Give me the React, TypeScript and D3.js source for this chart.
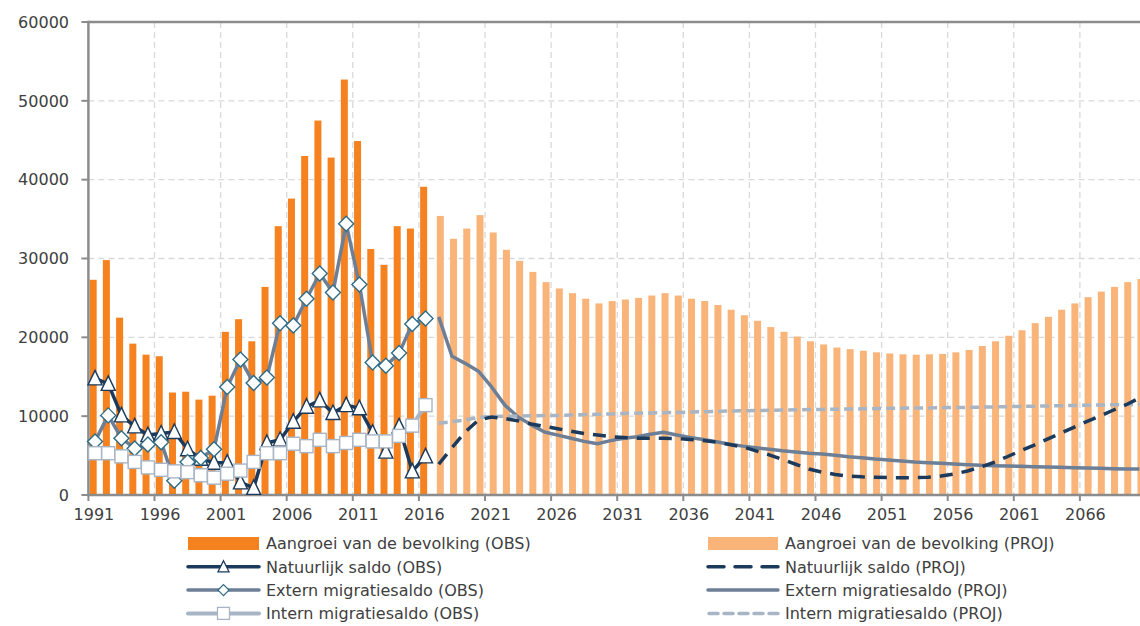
import React from "react";
import * as d3 from "d3";

const obsYears = d3.range(1991, 2017);
const projYears = d3.range(2017, 2071);
const allYears = d3.range(1991, 2071);
const tickYears = d3.range(1991, 2071, 5);
const yTicks = [0, 10000, 20000, 30000, 40000, 50000, 60000];

const growthObs = [27300, 29800, 22500, 19200, 17800, 17600, 13000, 13100, 12100, 12600, 20700, 22300, 19500, 26400, 34100, 37600, 43000, 47500, 42800, 52700, 44900, 31200, 29200, 34100, 33800, 39100];
const naturalObs = [14800, 14100, 10100, 8700, 7600, 7800, 8000, 5800, 4600, 4100, 4100, 1600, 900, 6600, 7000, 9300, 11200, 12000, 10400, 11400, 11000, 7900, 5500, 8700, 3000, 4900];
const externObs = [6800, 10100, 7200, 5900, 6400, 6700, 1800, 4200, 4700, 5800, 13700, 17200, 14200, 14900, 21800, 21500, 24900, 28100, 25700, 34400, 26700, 16800, 16400, 18000, 21700, 22400];
const internObs = [5300, 5300, 4900, 4200, 3500, 3200, 3000, 2900, 2500, 2200, 2700, 3100, 4200, 5300, 5300, 6500, 6200, 7000, 6200, 6600, 7000, 6800, 6800, 7500, 8800, 11400];

const growthProj = [35400, 32500, 33800, 35500, 33300, 31100, 29700, 28300, 27000, 26200, 25600, 24900, 24300, 24600, 24800, 25000, 25300, 25600, 25300, 24900, 24600, 24100, 23500, 22800, 22100, 21300, 20700, 20100, 19500, 19100, 18700, 18500, 18300, 18100, 17950, 17850, 17800, 17850, 17900, 18100, 18400, 18900, 19500, 20200, 20900, 21800, 22600, 23500, 24300, 25100, 25800, 26400, 27000, 27400];
const naturalProj = [3900, 6000, 8000, 9500, 9900, 9700, 9400, 9000, 8700, 8400, 8100, 7800, 7600, 7400, 7300, 7200, 7200, 7200, 7150, 7050, 6900, 6700, 6400, 6100, 5600, 5100, 4500, 3900, 3300, 2900, 2600, 2400, 2300, 2250, 2200, 2200, 2200, 2250, 2400, 2650, 3050, 3550, 4150, 4850, 5600, 6300, 7050, 7800, 8550, 9300, 10000, 10750, 11450, 12300];
const externProj = [22600, 17600, 16700, 15700, 13700, 11400, 9900, 8900, 8000, 7600, 7200, 6800, 6500, 6900, 7200, 7400, 7700, 7950, 7600, 7300, 7050, 6750, 6450, 6200, 6000, 5800, 5600, 5450, 5300, 5200, 5030, 4860, 4730, 4560, 4440, 4310, 4180, 4090, 4020, 3930, 3840, 3760, 3720, 3680, 3640, 3590, 3550, 3510, 3460, 3420, 3380, 3330, 3310, 3290];
const internProj = [9100, 9300, 9500, 9850, 9950, 10000, 10010, 10040, 10070, 10100, 10140, 10190, 10240, 10290, 10350, 10380, 10410, 10440, 10480, 10520, 10560, 10600, 10650, 10680, 10710, 10740, 10770, 10800, 10840, 10860, 10880, 10900, 10930, 10960, 10990, 11010, 11030, 11050, 11070, 11090, 11110, 11140, 11170, 11200, 11230, 11260, 11290, 11320, 11350, 11380, 11410, 11440, 11470, 11500];

const legendLeft = ["Aangroei van de bevolking (OBS)", "Natuurlijk saldo (OBS)", "Extern migratiesaldo (OBS)", "Intern migratiesaldo (OBS)"];
const legendRight = ["Aangroei van de bevolking (PROJ)", "Natuurlijk saldo (PROJ)", "Extern migratiesaldo (PROJ)", "Intern migratiesaldo (PROJ)"];

const C = {
  obsBar: "#F5821F",
  projBar: "#F9B47A",
  natural: "#1B3A5C",
  extern: "#6D7F96",
  diamond: "#2E6C86",
  intern: "#A8B5C4",
  axis: "#8C8C8C",
  grid: "#D9D9D9",
  text: "#404040",
};

const FONT = "'DejaVu Sans', Verdana, sans-serif";

function tri(x: number, y: number) {
  return `M${x},${y - 8}L${x + 7},${y + 6.5}L${x - 7},${y + 6.5}Z`;
}
function dia(x: number, y: number) {
  return `M${x},${y - 7.5}L${x + 7.5},${y}L${x},${y + 7.5}L${x - 7.5},${y}Z`;
}

export default function App() {
  const W = 1140, H = 626;
  const left = 88.4;
  const step = 13.22;
  const x = d3.scaleBand<number>().domain(allYears).range([left, left + step * allYears.length]).padding(0);
  const bw = x.bandwidth();
  const y = d3.scaleLinear().domain([0, 60000]).range([495, 22]);
  const cx = (yr: number) => (x(yr) as number) + bw / 2;
  const barW = bw * 0.53;
  const obsX = (yr: number) => (x(yr) as number) + bw * 0.36 - barW / 2;
  const projX = (yr: number) => (x(yr) as number) + bw * 0.62 - barW / 2;

  const line = d3.line<[number, number]>().x((d) => d[0]).y((d) => d[1]);
  const pts = (yrs: number[], vals: number[]) => yrs.map((yr, i) => [cx(yr), y(vals[i])] as [number, number]);

  const plotRight = left + step * allYears.length;

  return (
    <svg width={W} height={H} style={{ position: "absolute", left: 0, top: 0, background: "#fff" }} fontFamily={FONT}>
      {/* gridlines */}
      {yTicks.filter((t) => t > 0 && t < 60000).map((t) => (
        <line key={"gy" + t} x1={left} x2={plotRight} y1={y(t)} y2={y(t)} stroke={C.grid} strokeWidth={1.3} strokeDasharray="6,4" />
      ))}
      {tickYears.filter((t) => t > 1991).map((t) => (
        <line key={"gx" + t} x1={x(t) as number} x2={x(t) as number} y1={y(60000)} y2={y(0)} stroke={C.grid} strokeWidth={1.3} strokeDasharray="6,4" />
      ))}
      {/* bars */}
      {obsYears.map((yr, i) => (
        <rect key={"bo" + yr} x={obsX(yr)} y={y(growthObs[i])} width={barW} height={y(0) - y(growthObs[i])} fill={C.obsBar} />
      ))}
      {projYears.map((yr, i) => (
        <rect key={"bp" + yr} x={projX(yr)} y={y(growthProj[i])} width={barW} height={y(0) - y(growthProj[i])} fill={C.projBar} />
      ))}
      {/* axes */}
      <line x1={left} x2={plotRight} y1={y(60000)} y2={y(60000)} stroke={C.axis} strokeWidth={2.5} />
      <line x1={left} x2={plotRight} y1={y(0)} y2={y(0)} stroke={C.axis} strokeWidth={2.5} />
      <line x1={left} x2={left} y1={y(60000) - 1.2} y2={y(0) + 1.2} stroke={C.axis} strokeWidth={2.5} />
      {yTicks.map((t) => (
        <g key={"yt" + t}>
          <line x1={left - 7} x2={left} y1={y(t)} y2={y(t)} stroke={C.axis} strokeWidth={2} />
          <text x={69} y={y(t)} dy="0.36em" textAnchor="end" fontSize={16} fill={C.text}>{t}</text>
        </g>
      ))}
      {tickYears.map((t) => (
        <g key={"xt" + t}>
          <line x1={x(t) as number} x2={x(t) as number} y1={y(0)} y2={y(0) + 6} stroke={C.axis} strokeWidth={2} />
          <text x={(x(t) as number) + 5.5} y={520} textAnchor="middle" fontSize={16} fill={C.text}>{t}</text>
        </g>
      ))}
      {/* projection lines */}
      <path d={line(pts(projYears, externProj)) || ""} fill="none" stroke={C.extern} strokeWidth={3.5} strokeLinejoin="round" />
      <path d={line(pts(projYears, internProj)) || ""} fill="none" stroke={C.intern} strokeWidth={3.5} strokeDasharray="9,5" />
      <path d={line(pts(projYears, naturalProj)) || ""} fill="none" stroke={C.natural} strokeWidth={3.5} strokeDasharray="13,9" />
      {/* observed lines */}
      <path d={line(pts(obsYears, naturalObs)) || ""} fill="none" stroke={C.natural} strokeWidth={3.5} strokeLinejoin="round" />
      {obsYears.map((yr, i) => (
        <path key={"tr" + yr} d={tri(cx(yr), y(naturalObs[i]))} fill="#fff" stroke={C.natural} strokeWidth={1.4} />
      ))}
      <path d={line(pts(obsYears, externObs)) || ""} fill="none" stroke={C.extern} strokeWidth={3.5} strokeLinejoin="round" />
      {obsYears.map((yr, i) => (
        <path key={"di" + yr} d={dia(cx(yr), y(externObs[i]))} fill="#fff" stroke={C.diamond} strokeWidth={1.4} />
      ))}
      <path d={line(pts(obsYears, internObs)) || ""} fill="none" stroke={C.intern} strokeWidth={4} strokeLinejoin="round" />
      {obsYears.map((yr, i) => (
        <rect key={"sq" + yr} x={cx(yr) - 6.5} y={y(internObs[i]) - 6.5} width={13} height={13} fill="#fff" stroke={C.intern} strokeWidth={1.4} />
      ))}
      {/* legend */}
      {[0, 1, 2, 3].map((i) => {
        const ly = 543.5 + i * 23.3;
        return (
          <g key={"lg" + i}>
            {i === 0 && <rect x={188} y={ly - 6.5} width={71} height={13} fill={C.obsBar} />}
            {i === 1 && (
              <g>
                <line x1={188} x2={259} y1={ly} y2={ly} stroke={C.natural} strokeWidth={3.5} strokeLinecap="round" />
                <path d={`M223.5,${ly - 6}L229,${ly + 5}L218,${ly + 5}Z`} fill="#fff" stroke={C.natural} strokeWidth={1.3} />
              </g>
            )}
            {i === 2 && (
              <g>
                <line x1={188} x2={259} y1={ly} y2={ly} stroke={C.extern} strokeWidth={3.5} strokeLinecap="round" />
                <path d={`M223.5,${ly - 5.5}L229,${ly}L223.5,${ly + 5.5}L218,${ly}Z`} fill="#fff" stroke={C.diamond} strokeWidth={1.3} />
              </g>
            )}
            {i === 3 && (
              <g>
                <line x1={188} x2={259} y1={ly} y2={ly} stroke={C.intern} strokeWidth={4} strokeLinecap="round" />
                <rect x={217.5} y={ly - 6} width={12} height={12} fill="#fff" stroke={C.intern} strokeWidth={1.3} />
              </g>
            )}
            <text x={266} y={ly} dy="0.36em" fontSize={16} fill={C.text}>{legendLeft[i]}</text>

            {i === 0 && <rect x={708} y={ly - 6.5} width={70} height={13} fill={C.projBar} />}
            {i === 1 && <line x1={708} x2={778} y1={ly} y2={ly} stroke={C.natural} strokeWidth={3.5} strokeDasharray="16,11" strokeLinecap="round" />}
            {i === 2 && <line x1={708} x2={778} y1={ly} y2={ly} stroke={C.extern} strokeWidth={3.5} strokeLinecap="round" />}
            {i === 3 && <line x1={709} x2={778} y1={ly} y2={ly} stroke={C.intern} strokeWidth={3.5} strokeDasharray="9,6" strokeLinecap="round" />}
            <text x={785} y={ly} dy="0.36em" fontSize={16} fill={C.text}>{legendRight[i]}</text>
          </g>
        );
      })}
    </svg>
  );
}
